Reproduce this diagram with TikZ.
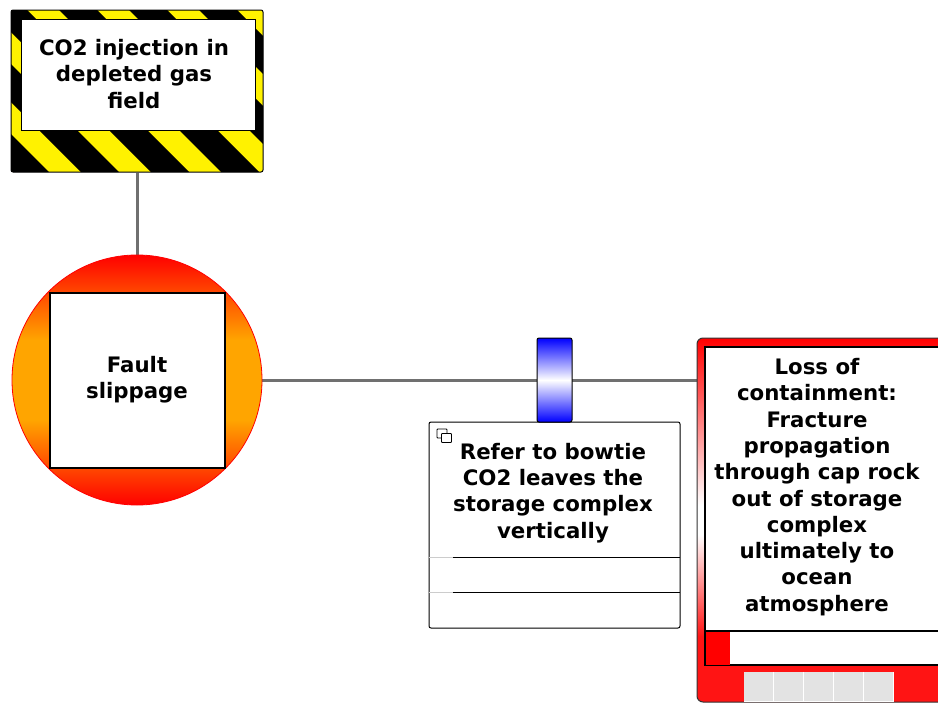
\documentclass[tikz,border=0pt]{standalone}
\usepackage{fontspec}
\setmainfont{DejaVu Sans}
\usetikzlibrary{backgrounds}
\definecolor{fsorange}{RGB}{255,165,0}
\definecolor{fsred}{RGB}{255,0,0}
\definecolor{conred}{RGB}{255,20,20}
\definecolor{linegray}{RGB}{112,112,112}
\definecolor{boxgray}{RGB}{227,227,227}
\pgfdeclareverticalshading{faultshade}{100bp}{color(0bp)=(fsred); color(25bp)=(fsred); color(42bp)=(fsorange); color(58bp)=(fsorange); color(75bp)=(fsred); color(100bp)=(fsred)}
\pgfdeclareverticalshading{conshade}{100bp}{color(0bp)=(conred); color(25bp)=(conred); color(34bp)=(conred); color(48bp)=(white); color(52bp)=(white); color(75bp)=(fsred); color(100bp)=(fsred)}
\begin{document}
\begin{tikzpicture}[x=1pt,y=-1pt,
  txt/.style={align=center, inner sep=0pt, font=\bfseries\fontsize{21.3}{26.3}\selectfont},
  conn/.style={draw=linegray, line width=3pt},
  hazbox/.style={rectangle, draw=black, line width=1pt, rounded corners=2pt,
    minimum width=252pt, minimum height=162pt, inner sep=0pt},
  hazinner/.style={rectangle, draw=black, line width=1pt, fill=white,
    minimum width=234pt, minimum height=111pt, inner sep=0pt},
  faultcirc/.style={circle, draw=red, line width=0.8pt, shading=faultshade,
    minimum size=250pt, inner sep=0pt},
  faultsq/.style={rectangle, draw=black, line width=1.2pt, fill=white,
    minimum size=175pt, inner sep=0pt},
  barrier/.style={rectangle, draw=black, line width=1pt, rounded corners=2pt,
    top color=blue, bottom color=blue, middle color=white,
    minimum width=35pt, minimum height=84pt, inner sep=0pt},
  escbox/.style={rectangle, draw=black, line width=1pt, fill=white, rounded corners=2pt,
    minimum width=251pt, minimum height=206pt, inner sep=0pt},
  conframe/.style={rectangle, draw=black!80, line width=1pt, shading=conshade, rounded corners=6pt,
    minimum width=263pt, minimum height=364pt, inner sep=0pt},
  coninner/.style={rectangle, draw=black, line width=1.2pt, fill=white,
    minimum width=245pt, minimum height=318pt, inner sep=0pt},
  graybox/.style={rectangle, fill=boxgray, minimum width=29pt, minimum height=29pt, inner sep=0pt}
]
\useasboundingbox (0,0) rectangle (938,704);
\clip (0,0) rectangle (938,704);

% Hazard
\begin{scope}
  \clip[rounded corners=2pt] (11,10) rectangle (263,172);
  \fill[yellow] (11,10) rectangle (263,172);
  \foreach \k in {-4,...,4}{
    \fill[black] (49+70*\k,0) -- ++(38,0) -- ++(200,200) -- ++(-38,0) -- cycle;
  }
\end{scope}
\node[hazbox] (haz) at (137,91) {};
\node[hazinner] (hazin) at (138,74.5) {};
\node[txt] (hazt) at (134,74) {CO2 injection in\\depleted gas\\field};

% Threat (fault)
\node[faultcirc] (fault) at (137,380) {};
\node[faultsq] (faultin) at (137.5,380.5) {};
\node[txt] (faultt) at (137,380) {Fault\\slippage};

% Consequence
\node[conframe] (cons) at (828.5,520) {};
\node[coninner] (consin) at (827.5,506) {};
\coordinate (cdl) at (705,631);
\coordinate (cdr) at (950,631);
\draw[line width=2pt] (cdl) -- (cdr);
\node[rectangle, fill=red, minimum width=24pt, minimum height=33pt, inner sep=0pt] (redsq) at (717.5,648) {};
\node[txt] (const) at (817,487) {Loss of\\containment:\\Fracture\\propagation\\through cap rock\\out of storage\\complex\\ultimately to\\ocean\\atmosphere};
\foreach \i in {0,...,4}{
  \node[graybox] (g\i) at (758.5+30*\i,686.5) {};
  \draw[white, line width=1.2pt] (g\i.north east) -- (g\i.south east) -- (g\i.south west);
}

% Escalation factor box
\node[escbox] (esc) at (554.5,525) {};
\coordinate (d1a) at (429,557.5);
\coordinate (d1b) at (453,557.5);
\coordinate (d1c) at (680,557.5);
\coordinate (d2a) at (429,592.5);
\coordinate (d2b) at (453,592.5);
\coordinate (d2c) at (680,592.5);
\draw[black!20, line width=1pt] (d1a) -- (d1b) (d2a) -- (d2b);
\draw[black, line width=1pt] (d1b) -- (d1c) (d2b) -- (d2c);
\node[txt] (esct) at (553,493) {Refer to bowtie\\CO2 leaves the\\storage complex\\vertically};
\node[rectangle, draw=black, line width=0.8pt, fill=white, minimum width=10pt, minimum height=9pt, inner sep=0pt, rounded corners=0.8pt] (ic1) at (442,433.5) {};
\node[rectangle, draw=black, line width=0.8pt, fill=white, minimum width=10pt, minimum height=9pt, inner sep=0pt, rounded corners=0.8pt] (ic2) at (446.5,438) {};

% Barrier
\node[barrier] (bar) at (554.5,380) {};

% Connectors
\begin{scope}[on background layer]
\fill[white] (0,0) rectangle (938,704);
\draw[conn] (haz.south) -- (fault.north);
\draw[conn] (fault.east) -- (fault.east -| cons.west);
\end{scope}
\end{tikzpicture}
\end{document}
